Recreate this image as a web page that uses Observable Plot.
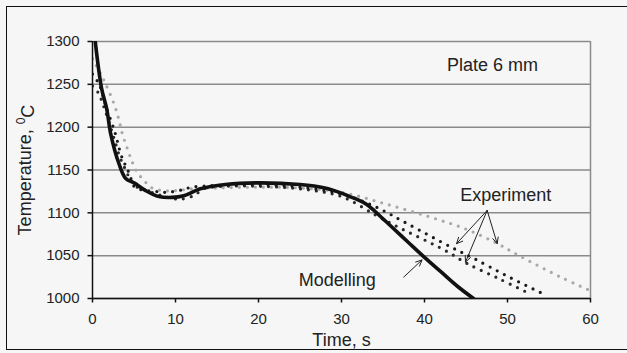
<!DOCTYPE html>
<html>
<head>
<meta charset="utf-8">
<script src="https://cdn.jsdelivr.net/npm/d3@7"></script>
<script src="https://cdn.jsdelivr.net/npm/@observablehq/plot@0.6"></script>
<style>
  html, body { margin: 0; padding: 0; background: #f6f6f6; overflow: hidden; }
  #wrap { position: relative; width: 627px; height: 353px; overflow: hidden; background: #f6f6f6; }
  #frame { position: absolute; left: 6px; top: 6px; width: 700px; height: 344px; border: 1.5px solid #111; box-sizing: border-box; pointer-events: none; }
</style>
</head>
<body>
<div id="wrap"><div id="chart"></div><div id="frame"></div></div>
<script>
// ---- data ----
const modelT = [0.33, 1.1, 1.7, 2.2, 3.2, 4.0, 5.0, 6.4, 8.0, 9.6, 11, 13, 16, 20, 25, 28, 30, 31, 32, 33, 34, 35, 36, 38, 40, 42, 44, 45.9];
const modelV = [1300, 1245, 1222, 1192, 1157, 1140, 1135, 1126, 1119, 1118, 1120, 1128, 1133, 1135, 1133, 1129, 1123, 1119, 1115, 1110, 1102, 1093, 1084, 1066, 1048, 1031, 1014, 1000];

const expAT = [0, 0.8, 1.6, 2.7, 3.4, 3.8, 4.2, 4.6, 4.9, 5.8, 7.6, 8.8, 10.4, 12, 15, 20, 25, 30, 34.1, 38, 43.4, 45.9, 50, 54.6];
const expAV = [1262, 1250, 1225, 1194, 1169, 1159, 1151, 1141, 1132, 1127, 1125, 1124, 1126, 1130, 1132, 1133, 1130, 1122, 1107, 1087, 1059, 1047, 1026, 1004];

const expBT = [0, 0.7, 1.5, 2.5, 3.3, 4.0, 4.5, 5.2, 6.5, 8.0, 9.5, 10.6, 12.2, 13.4, 16, 20, 25, 30, 34, 36.5, 42.5, 45.1, 49, 52.8];
const expBV = [1248, 1240, 1220, 1190, 1165, 1150, 1140, 1131, 1126, 1121, 1117, 1116, 1120, 1128, 1131, 1131, 1128, 1119, 1098, 1085, 1056, 1041, 1023, 1005];

const expCT = [0, 1.0, 1.6, 2.6, 3.2, 3.6, 4.2, 4.8, 5.4, 6.2, 7.0, 8.4, 10, 12, 15, 20, 25, 30, 35.1, 40.7, 45, 48.8, 51.4, 56.4, 60];
const expCV = [1280, 1262, 1250, 1227, 1208, 1192, 1175, 1159, 1147, 1138, 1130, 1126, 1126, 1128, 1129, 1130, 1129, 1124, 1111, 1095, 1081, 1064, 1050, 1025, 1009];

const xTicks = [0, 10, 20, 30, 40, 50, 60];
const yTicks = [1000, 1050, 1100, 1150, 1200, 1250, 1300];

// annotations (data coordinates)
const expArrowFrom = {x: 47.55, y: 1102.8};
const expArrowTo = [{x: 43.86, y: 1064}, {x: 44.94, y: 1042.5}, {x: 48.76, y: 1064}];
const modArrow = [{x1: 37.5, y1: 1025, x2: 39.7, y2: 1045}];
const labels = [
  {x: 49.8, y: 1120, text: "Experiment"},
  {x: 29.5, y: 1021, text: "Modelling"},
  {x: 48.2, y: 1272, text: "Plate 6 mm"}
];

const toRows = (ts, vs) => ts.map((t, i) => ({t, v: vs[i]}));
const model = toRows(modelT, modelV);
const expA = toRows(expAT, expAV);
const expB = toRows(expBT, expBV);
const expC = toRows(expCT, expCV);
const expArrows = expArrowTo.map(d => ({x1: expArrowFrom.x, y1: expArrowFrom.y, x2: d.x, y2: d.y}));

const font = "'Liberation Sans', Arial, sans-serif";
const ink = "#222";

const chart = Plot.plot({
  width: 627,
  height: 353,
  marginLeft: 92,
  marginRight: 37,
  marginTop: 41,
  marginBottom: 55,
  style: {background: "transparent", fontFamily: font, color: ink, overflow: "visible"},
  x: {domain: [0, 60], ticks: xTicks, label: null},
  y: {domain: [1000, 1300], ticks: yTicks, label: null},
  marks: [
    Plot.ruleY(yTicks, {stroke: "#8a8a8a", strokeWidth: 1.5}),
    Plot.ruleX([60], {stroke: "#8a8a8a", strokeWidth: 1.5}),
    Plot.line(expC, {x: "t", y: "v", curve: "catmull-rom", stroke: "#a8a8a8", strokeWidth: 3.2, strokeDasharray: "0 8", strokeLinecap: "round", clip: true}),
    Plot.line(expB, {x: "t", y: "v", curve: "catmull-rom", stroke: "#2a2a2a", strokeWidth: 3.2, strokeDasharray: "0 8", strokeLinecap: "round", clip: true}),
    Plot.line(expA, {x: "t", y: "v", curve: "catmull-rom", stroke: "#1a1a1a", strokeWidth: 3.2, strokeDasharray: "0 8", strokeLinecap: "round", clip: true}),
    Plot.line(model, {x: "t", y: "v", curve: "catmull-rom", stroke: "#111", strokeWidth: 3.6, clip: true}),
    Plot.ruleX([0], {stroke: "#111", strokeWidth: 1.5}),
    Plot.ruleY([1000], {stroke: "#111", strokeWidth: 1.5}),
    Plot.axisX({ticks: xTicks, tickSize: 4.5, tickPadding: 10, fontSize: 15, tickFormat: d => String(d), stroke: "#111", strokeWidth: 1.5, label: null}),
    Plot.axisY({ticks: yTicks, tickSize: 4.5, tickPadding: 8.5, fontSize: 15, tickFormat: d => String(d), stroke: "#111", strokeWidth: 1.5, label: null}),
    Plot.arrow(expArrows, {x1: "x1", y1: "y1", x2: "x2", y2: "y2", stroke: ink, strokeWidth: 1, headLength: 10, headAngle: 50}),
    Plot.arrow(modArrow, {x1: "x1", y1: "y1", x2: "x2", y2: "y2", stroke: ink, strokeWidth: 1, headLength: 10, headAngle: 50}),
    Plot.text(labels, {x: "x", y: "y", text: "text", fontSize: 18, fill: ink, textAnchor: "middle"}),
    Plot.text(["Time, s"], {frameAnchor: "bottom", dy: 42, fontSize: 18, fill: ink, lineAnchor: "middle", textAnchor: "middle"}),
    Plot.text(["Temperature, 0C"], {frameAnchor: "left", dx: -67, rotate: -90, fontSize: 18, fill: ink, lineAnchor: "middle", textAnchor: "middle", className: "ytitle"})
  ]
});

document.getElementById("chart").appendChild(chart);

// superscript the 0 in the y title
d3.select(chart).selectAll(".ytitle text").each(function() {
  const t = d3.select(this);
  t.text(null);
  t.append("tspan").text("Temperature, ");
  t.append("tspan").attr("font-size", 12).attr("dy", "-0.5em").text("0");
  t.append("tspan").attr("dy", "0.5em").text("C");
});
</script>
</body>
</html>
